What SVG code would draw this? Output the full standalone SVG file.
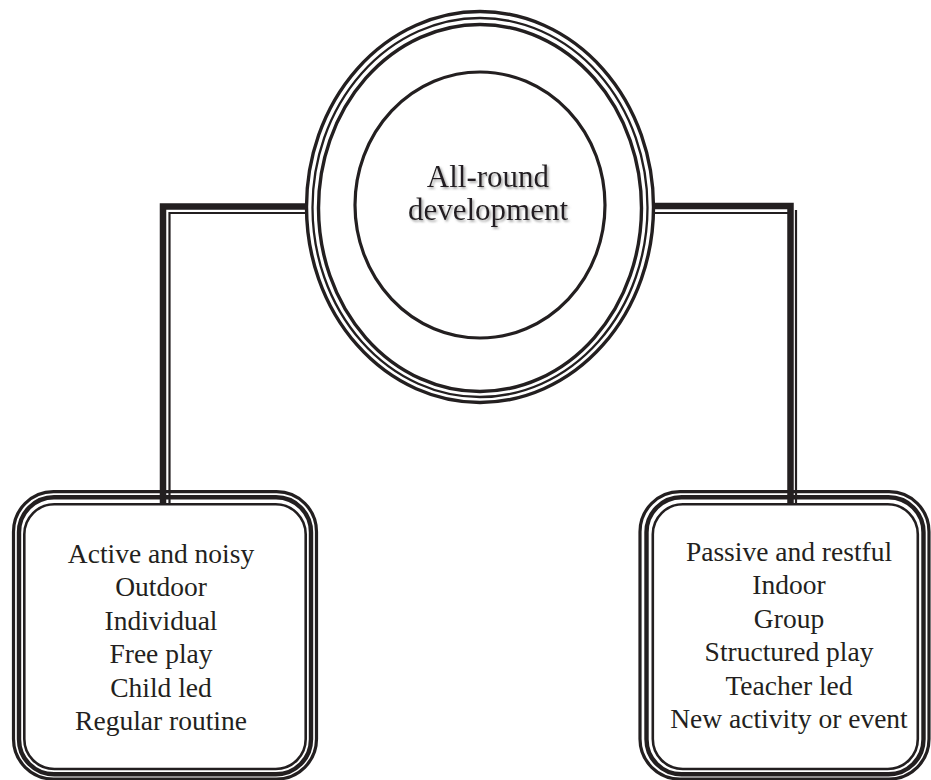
<svg xmlns="http://www.w3.org/2000/svg" width="931" height="780" viewBox="0 0 931 780">
<style>
.ln{fill:none;stroke:#231f20}
.txt{fill:#231f20;text-anchor:middle}
.box{font-size:27.5px}
.ctr{font-size:31px}
</style>
<defs>
<filter id="sh" x="-10%" y="-20%" width="130%" height="150%">
<feDropShadow dx="1.6" dy="1.8" stdDeviation="0.9" flood-color="#8a8a8a" flood-opacity="0.8"/>
</filter>
</defs>
<rect width="931" height="780" fill="#ffffff"/>
<g id="center-node">
<ellipse cx="480" cy="207" rx="173.5" ry="195.5" fill="#ffffff" class="ln" stroke-width="3.4"/>
<ellipse cx="480" cy="207.5" rx="167.5" ry="189.5" class="ln" stroke-width="2.3"/>
<ellipse cx="480" cy="208" rx="161.5" ry="183.5" class="ln" stroke-width="3.4"/>
<ellipse cx="480" cy="205" rx="125" ry="133" class="ln" stroke-width="3.2"/>
<g class="txt ctr" font-family="'Liberation Serif', 'DejaVu Serif', 'Times New Roman', serif" filter="url(#sh)">
<text x="488" y="187">All-round</text>
<text x="488" y="220">development</text>
</g>
</g>
<g id="left-node">
<rect x="13.5" y="491.7" width="303" height="287.3" rx="40" ry="40" fill="#ffffff" class="ln" stroke-width="3.2"/>
<rect x="19" y="497.3" width="292" height="277" rx="35" ry="35" class="ln" stroke-width="4.4"/>
<rect x="24.3" y="504.3" width="281.4" height="264.7" rx="30" ry="30" class="ln" stroke-width="2.6"/>
<g class="txt box" font-family="'Liberation Serif', 'DejaVu Serif', 'Times New Roman', serif">
<text x="161" y="563">Active and noisy</text>
<text x="161" y="596.4">Outdoor</text>
<text x="161" y="629.8">Individual</text>
<text x="161" y="663.2">Free play</text>
<text x="161" y="696.6">Child led</text>
<text x="161" y="730">Regular routine</text>
</g>
</g>
<g id="right-node">
<rect x="640" y="491.7" width="289" height="287.3" rx="40" ry="40" fill="#ffffff" class="ln" stroke-width="3.2"/>
<rect x="646.5" y="497.3" width="277" height="277" rx="35" ry="35" class="ln" stroke-width="4.4"/>
<rect x="652.8" y="504.3" width="265" height="264.7" rx="30" ry="30" class="ln" stroke-width="2.6"/>
<g class="txt box" font-family="'Liberation Serif', 'DejaVu Serif', 'Times New Roman', serif">
<text x="789" y="561">Passive and restful</text>
<text x="789" y="594.4">Indoor</text>
<text x="789" y="627.8">Group</text>
<text x="789" y="661.2">Structured play</text>
<text x="789" y="694.6">Teacher led</text>
<text x="789" y="728">New activity or event</text>
</g>
</g>
<g id="connectors" class="ln" stroke-linejoin="miter">
<path d="M308 206.5 H163 V505" stroke-width="6.5"/>
<path d="M308 213 H169.5 V505" stroke-width="2.2"/>
<path d="M652 206 H790.5 V505" stroke-width="6.5"/>
<path d="M652 213 H788" stroke-width="2.2"/>
<path d="M796 210 V505" stroke-width="2.2"/>
</g>
</svg>
